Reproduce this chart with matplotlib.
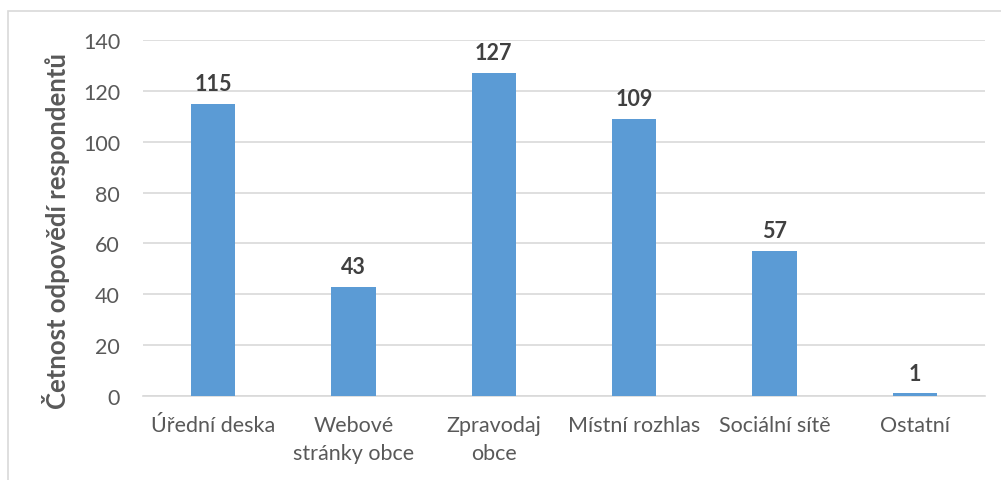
import matplotlib
matplotlib.use("Agg")
import matplotlib.pyplot as plt
from matplotlib.patches import Rectangle

categories = ["Úřední deska", "Webové\nstránky obce", "Zpravodaj\nobce",
              "Místní rozhlas", "Sociální sítě", "Ostatní"]
values = [115, 43, 127, 109, 57, 1]
yticks = [0, 20, 40, 60, 80, 100, 120, 140]
ylabel = "Četnost odpovědí respondentů"

plt.rcParams['font.family'] = ['Lato', 'DejaVu Sans']
text_color = "#595959"
grid_color = "#D9D9D9"
bar_color = "#5B9BD5"

fig = plt.figure(figsize=(10.01, 4.81), dpi=100)
fig.patches.append(Rectangle((8/1001, -0.1), 1.1, 1 - 12/481 + 0.1,
                             transform=fig.transFigure, fill=False,
                             edgecolor=grid_color, linewidth=1.2))
ax = fig.add_axes([143/1001, 1 - 397/481, (985 - 143)/1001, (397 - 41)/481])

x = list(range(len(categories)))
ax.bar(x, values, width=0.314, color=bar_color, zorder=3)
ax.set_xlim(-0.5, len(categories) - 0.5)
ax.set_ylim(0, 140)
ax.set_yticks(yticks)
ax.set_xticks(x)
ax.set_xticklabels(categories, fontsize=15.5, color=text_color, linespacing=1.45)
ax.tick_params(axis='y', labelsize=15.5, labelcolor=text_color, length=0, pad=16.5)
ax.tick_params(axis='x', length=0, pad=14)
ax.grid(axis='y', color=grid_color, linewidth=1.2, zorder=0)
for s in ['top', 'right', 'left']:
    ax.spines[s].set_visible(False)
ax.spines['bottom'].set_color(grid_color)
ax.spines['bottom'].set_linewidth(1.2)
ax.set_ylabel(ylabel, fontsize=18.5, fontweight='bold', color=text_color)
ax.yaxis.set_label_coords(-0.087, 0.466)

for xi, v in zip(x, values):
    ax.annotate(str(v), (xi, v), xytext=(0, 7), textcoords='offset points',
                ha='center', va='bottom', fontsize=15.5, fontweight='bold', color="#404040")

fig.savefig("out.png", dpi=100)
